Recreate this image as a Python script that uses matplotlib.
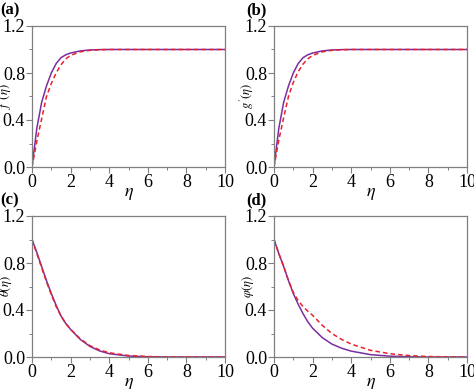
import matplotlib
matplotlib.use("Agg")
import matplotlib.pyplot as plt
from matplotlib.ticker import MultipleLocator, FormatStrFormatter

plt.rcParams['font.family'] = ['Liberation Serif', 'DejaVu Serif']
plt.rcParams['mathtext.fontset'] = 'stix'

eta = [0, 0.25, 0.5, 0.75, 1.0, 1.25, 1.5, 1.75, 2.0, 2.5, 3.0, 3.5, 4.0, 5.0, 6.0, 7.0, 8.0, 9.0, 10.0]

# (a) f'(eta)
fp_solid = [0, 0.33, 0.55, 0.69, 0.80, 0.88, 0.93, 0.955, 0.97, 0.988, 0.996, 0.999, 1.0, 1.0, 1.0, 1.0, 1.0, 1.0, 1.0]
fp_dash = [0, 0.22, 0.41, 0.60, 0.71, 0.80, 0.87, 0.92, 0.95, 0.98, 0.993, 0.998, 1.0, 1.0, 1.0, 1.0, 1.0, 1.0, 1.0]
# (b) g'(eta)
gp_solid = [0, 0.33, 0.55, 0.69, 0.80, 0.88, 0.93, 0.955, 0.97, 0.988, 0.996, 0.999, 1.0, 1.0, 1.0, 1.0, 1.0, 1.0, 1.0]
gp_dash = [0, 0.23, 0.42, 0.60, 0.72, 0.81, 0.875, 0.92, 0.95, 0.98, 0.993, 0.998, 1.0, 1.0, 1.0, 1.0, 1.0, 1.0, 1.0]
# (c) theta(eta)
th_solid = [1.0, 0.89, 0.77, 0.65, 0.54, 0.44, 0.35, 0.285, 0.235, 0.15, 0.09, 0.052, 0.028, 0.008, 0.002, 0.0, 0.0, 0.0, 0.0]
th_dash = [1.0, 0.88, 0.76, 0.64, 0.53, 0.43, 0.35, 0.285, 0.235, 0.155, 0.097, 0.06, 0.036, 0.013, 0.004, 0.001, 0.0, 0.0, 0.0]
# (d) phi(eta)
ph_solid = [1.0, 0.88, 0.77, 0.65, 0.54, 0.45, 0.37, 0.30, 0.245, 0.165, 0.11, 0.075, 0.05, 0.02, 0.007, 0.002, 0.0, 0.0, 0.0]
ph_dash = [1.0, 0.88, 0.77, 0.65, 0.55, 0.48, 0.43, 0.39, 0.355, 0.27, 0.20, 0.15, 0.11, 0.057, 0.028, 0.012, 0.004, 0.001, 0.0]

panel_labels = ["(a)", "(b)", "(c)", "(d)"]
y_labels = [r"$f'(\eta)$", r"$g'(\eta)$", r"$\theta(\eta)$", r"$\varphi(\eta)$"]
solids = [fp_solid, gp_solid, th_solid, ph_solid]
dashes = [fp_dash, gp_dash, th_dash, ph_dash]
# layout in pixels: axes left x, axes bottom y, panel label x, panel label y
layout = [(32, 167, 0, 10), (274, 167, 246, 10), (32, 357, 0, 200), (274, 357, 246, 200)]

W, H = 474, 389
fig = plt.figure(figsize=(W / 100, H / 100), dpi=100)
solid_c = '#7A2E9E'
dash_c = '#E8222A'
spine_c = '#7f7f7f'

for lab, ylab, s, d, (x0, yb, lx, ly) in zip(panel_labels, y_labels, solids, dashes, layout):
    ax = fig.add_axes([x0 / W, (H - yb) / H, 193 / W, 141 / H])
    ax.plot(eta, s, color=solid_c, lw=1.1)
    ax.plot(eta, d, color=dash_c, lw=1.1, ls=(0, (3, 2)))
    ax.set_xlim(0, 10)
    ax.set_ylim(0, 1.2)
    ax.xaxis.set_major_locator(MultipleLocator(2))
    ax.xaxis.set_minor_locator(MultipleLocator(1))
    ax.yaxis.set_major_locator(MultipleLocator(0.4))
    ax.yaxis.set_minor_locator(MultipleLocator(0.2))
    ax.yaxis.set_major_formatter(FormatStrFormatter('%.1f'))
    for sp in ax.spines.values():
        sp.set_color(spine_c)
        sp.set_linewidth(0.9)
    ax.tick_params(which='major', direction='out', length=4, width=0.8, color=spine_c,
                   labelsize=13, pad=1)
    ax.tick_params(which='minor', direction='out', length=2.5, width=0.7, color=spine_c)
    ax.set_xlabel(r"$\eta$", fontsize=13, labelpad=-4)
    ax.set_ylabel(ylab, fontsize=9)
    ax.yaxis.set_label_coords(-0.095, 0.5)
    fig.text(lx / W, 1 - ly / H, lab, fontsize=12, fontweight='bold', va='center', ha='left')

fig.savefig("out.png", dpi=100)
